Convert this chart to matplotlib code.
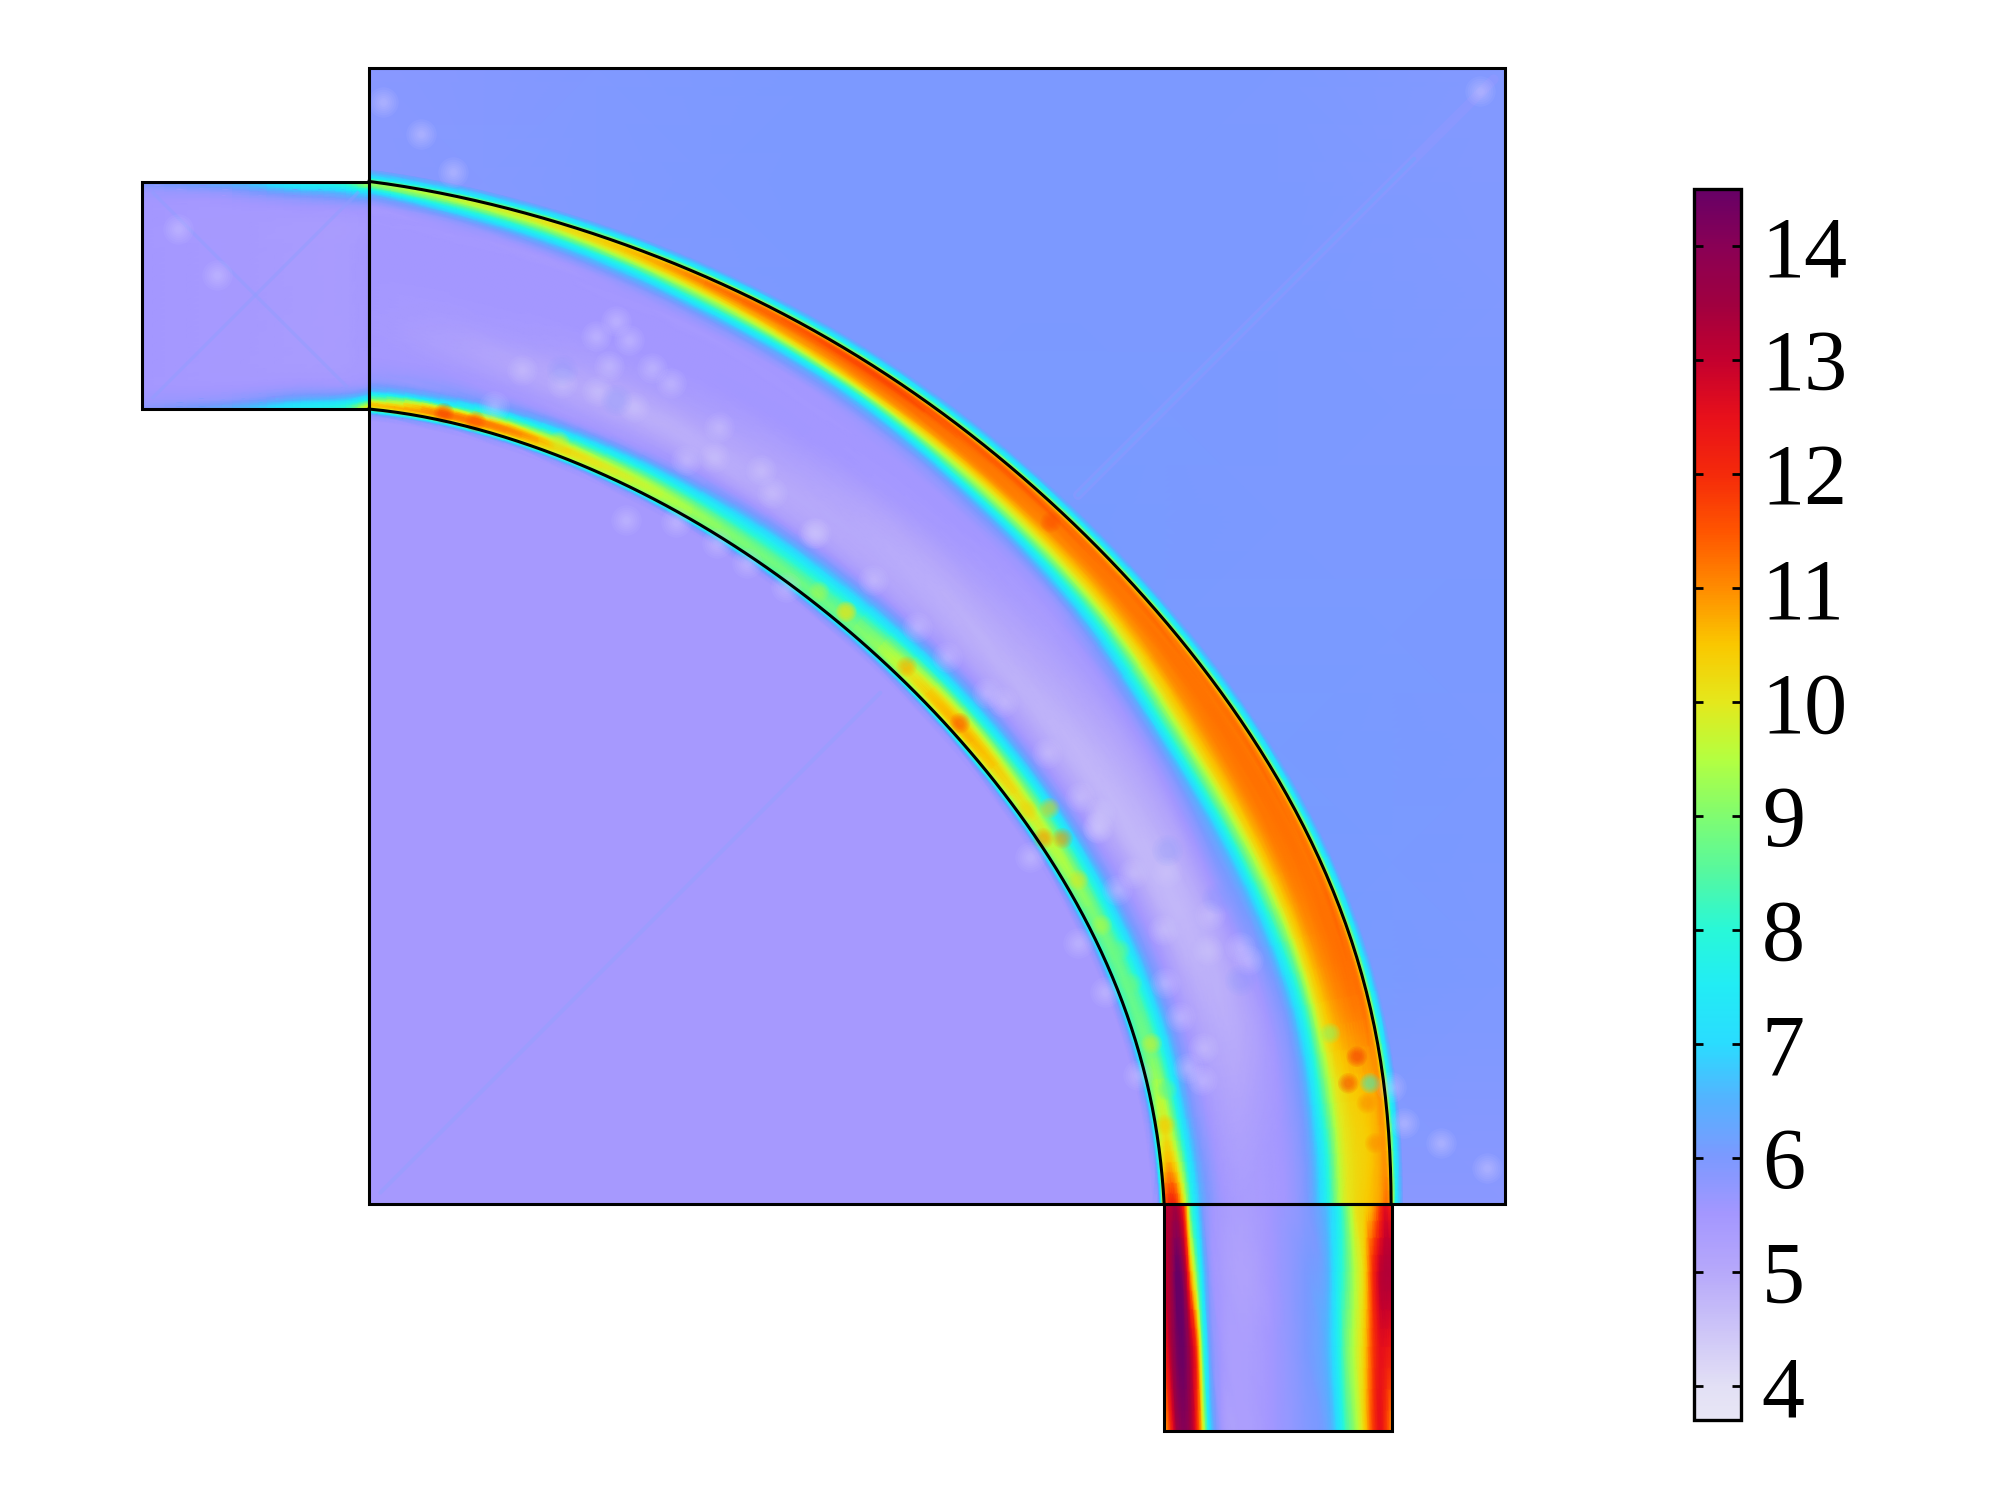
import numpy as np
import matplotlib
matplotlib.use('Agg')
import matplotlib.pyplot as plt
import matplotlib.tri as mtri
from matplotlib.colors import LinearSegmentedColormap, Normalize
from matplotlib.patches import Polygon, Rectangle
from matplotlib.cm import ScalarMappable

plt.rcParams['font.family'] = ['Liberation Serif', 'DejaVu Serif']

# colour scale
vmin, vmax = 3.7, 14.5
scale_vals = [3.7, 4, 5, 5.5, 6, 6.5, 7, 7.5, 8, 8.5, 9, 9.5, 10, 10.5, 11, 11.5, 12, 12.5, 13, 13.5, 14, 14.5]
scale_cols = ['#E8E6F5', '#E2DFF5', '#B6A8FA', '#A497FF', '#7C99FF', '#55B2FF', '#2ADCFF', '#22ECF5',
              '#28F8D8', '#55F8A0', '#80FC70', '#B4FF40', '#E4E81C', '#FAC800', '#FF8C00', '#FF5500',
              '#F52A0A', '#E8101A', '#C4002E', '#A00040', '#8A0055', '#660066']
tick_vals = [4, 5, 6, 7, 8, 9, 10, 11, 12, 13, 14]

# the curved walls
outer_x = [0, .22, .44, .734, 1.027, 1.32, 1.614, 1.907, 2.2, 2.484, 2.777, 3.071, 3.364, 3.658, 3.951, 4.171, 4.288, 4.376, 4.435, 4.472, 4.491, 4.5]
outer_y = [4.5, 4.47, 4.419, 4.346, 4.258, 4.155, 4.023, 3.861, 3.703, 3.509, 3.289, 3.011, 2.732, 2.38, 1.94, 1.529, 1.28, 1.001, .722, .458, .223, 0]
inner_x = [0, .22, .44, .734, 1.027, 1.32, 1.614, 1.907, 2.191, 2.484, 2.777, 2.953, 3.115, 3.261, 3.379, 3.438, 3.481, 3.5]
inner_y = [3.5, 3.465, 3.421, 3.333, 3.209, 3.069, 2.893, 2.68, 2.46, 2.167, 1.837, 1.573, 1.323, 1.03, .707, .458, .208, 0]

# bend: rows by angle, columns by position across the channel (0 inner wall, 1 outer wall)
bend_angle = [0, 3, 6, 12, 20, 30, 40, 50, 60, 70, 75, 80, 85, 90]
bend_s = [-.05, -.02, 0, .02, .05, .08, .12, .16, .22, .32, .45, .58, .66, .72, .78, .84, .90, .95, .985, 1.0, 1.02, 1.05]
bend_00 = [5.45, 6.4, 11, 12, 12, 10.5, 8, 6.6, 5.8, 5.4, 5.4, 5.7, 6.4, 7.8, 9.6, 10.2, 10.5, 10.8, 11.2, 10.5, 7.8, 6.1]
bend_03 = [5.45, 6.3, 9.5, 10.5, 10.5, 9.5, 7.6, 6.4, 5.7, 5.3, 5.4, 5.7, 6.4, 7.8, 9.6, 10.2, 10.4, 10.7, 10.8, 10, 7.8, 6.1]
bend_06 = [5.45, 6.2, 8.5, 9.6, 9.8, 8.8, 7.2, 6.2, 5.6, 5.2, 5.3, 5.7, 6.4, 8, 9.7, 10.3, 10.5, 10.7, 10.8, 10, 7.8, 6.1]
bend_12 = [5.45, 6.2, 8, 8.6, 8.8, 8.4, 7.2, 6.2, 5.5, 5, 5, 5.6, 6.3, 7.9, 10, 10.8, 11.1, 11.2, 11, 10, 7.8, 6.1]
bend_20 = [5.45, 6.2, 8, 8.6, 8.8, 8.3, 7.2, 6.2, 5.5, 4.8, 4.9, 5.8, 6.6, 8.5, 10.2, 11, 11.2, 11.2, 11, 10, 7.8, 6.1]
bend_30 = [5.45, 6.2, 8.6, 9.6, 9.8, 9, 7.6, 6.3, 5.4, 4.8, 4.9, 5.4, 6.3, 8.2, 10, 10.9, 11.2, 11.2, 11, 10, 7.8, 6.1]
bend_40 = [5.45, 6.2, 9, 10.4, 10.6, 9.8, 8, 6.6, 5.5, 4.9, 5, 5.3, 5.5, 6, 7.8, 10, 11, 11.2, 11, 10, 7.8, 6.1]
bend_50 = [5.45, 6.2, 8.2, 8.8, 8.8, 8.4, 7.4, 6.4, 5.4, 5, 5, 5.4, 5.5, 5.6, 6.4, 9, 10.9, 11.2, 11.2, 10, 7.8, 6.1]
bend_60 = [5.45, 6.2, 8.2, 8.8, 8.8, 8.2, 7.2, 6.2, 5.3, 5, 5.2, 5.5, 5.5, 5.5, 5.7, 7, 10.4, 11.3, 11.4, 10, 7.8, 6.1]
bend_70 = [5.45, 6.2, 8.8, 9.6, 9.6, 8.6, 7, 5.8, 5.3, 4.9, 5.3, 5.5, 5.5, 5.5, 5.5, 6.2, 8.6, 10.6, 11, 10, 7.8, 6.1]
bend_75 = [5.45, 6.2, 9, 10, 10, 8.6, 6.8, 5.7, 5.3, 5, 5.3, 5.5, 5.5, 5.5, 5.5, 5.8, 7.4, 9.8, 10.5, 9.8, 7.8, 6.1]
bend_80 = [5.45, 6.2, 9.3, 10.8, 10.8, 8.6, 6.4, 5.7, 5.4, 5.1, 5.4, 5.5, 5.5, 5.5, 5.5, 5.5, 6.6, 8.8, 10, 9.6, 7.6, 6.1]
bend_85 = [5.45, 6.3, 9.5, 11, 10.5, 7.4, 6, 5.7, 5.5, 5.3, 5.4, 5.5, 5.5, 5.5, 5.5, 5.5, 6, 8, 9.6, 9.3, 7.4, 6.1]
bend_90 = [5.45, 6.4, 9.5, 10.5, 8.5, 6.6, 5.8, 5.6, 5.5, 5.5, 5.5, 5.5, 5.5, 5.5, 5.5, 5.5, 5.6, 6.8, 9, 9, 7.2, 6.1]

# outlet: rows going down, columns left to right
outlet_y = [0, -.3, -.63, -1]
outlet_s = [0, .03, .055, .09, .115, .145, .17, .2, .25, .35, .5, .62, .72, .76, .8, .84, .88, .92, .95, .97, 1]
outlet_0 = [13, 13.2, 13.3, 11.5, 8.5, 7, 6, 5.6, 5.4, 5.3, 5.6, 5.9, 6.7, 7.5, 8.8, 10, 10.3, 10.8, 11.8, 12.5, 12]
outlet_1 = [12.8, 13.5, 14.5, 13.5, 11, 8.7, 7, 5.8, 5.4, 5.2, 5.6, 6, 6.5, 7.5, 8.5, 9.5, 10.3, 12, 13, 13.2, 13.2]
outlet_2 = [12, 13.3, 14.2, 14.3, 13.3, 11.5, 8.5, 6.3, 5.5, 5.3, 5.6, 6, 6.6, 7.5, 8.8, 9.6, 10.4, 11.8, 12.5, 12.5, 12.3]
outlet_3 = [10.5, 12, 13.5, 14, 13.5, 12, 10, 7.2, 5.6, 5.3, 5.6, 5.9, 6.3, 7, 8.3, 9.2, 10.3, 11.8, 12.5, 12, 11]

# inlet: rows along the flow, columns bottom to top
inlet_x = [-1, -.6, -.3, -.1, 0]
inlet_s = [0, .02, .04, .07, .1, .15, .3, .5, .7, .85, .9, .93, .96, .98, 1]
inlet_0 = [5.8, 5.7, 5.6, 5.55, 5.5, 5.5, 5.5, 5.5, 5.5, 5.5, 5.5, 5.55, 5.6, 5.8, 5.9]
inlet_1 = [6.5, 6.2, 5.8, 5.6, 5.5, 5.45, 5.45, 5.45, 5.45, 5.45, 5.5, 5.6, 5.9, 6.3, 6.6]
inlet_2 = [7.5, 7.2, 6.5, 5.9, 5.6, 5.45, 5.4, 5.4, 5.4, 5.45, 5.6, 5.9, 6.6, 7.3, 7.6]
inlet_3 = [8.2, 7.8, 6.9, 6.0, 5.6, 5.45, 5.4, 5.4, 5.4, 5.45, 5.7, 6.2, 7.0, 7.8, 8.3]
inlet_4 = [10.5, 9.5, 7.8, 6.4, 5.7, 5.5, 5.5, 5.5, 5.5, 5.5, 5.8, 6.5, 7.6, 9.0, 9.6]

# square behind the bend, coarse nodes from top row to bottom row
bg_x = [0, 1, 2, 3, 4, 5]
bg_y = [5, 4, 3, 2, 1, 0]
bg_5 = [5.85, 5.95, 6.02, 6.02, 5.98, 5.9]
bg_4 = [5.85, 5.95, 6.02, 6.02, 6.02, 5.95]
bg_3 = [5.8, 5.9, 6.0, 6.05, 6.02, 6.0]
bg_2 = [5.45, 5.5, 5.6, 6.02, 6.05, 6.0]
bg_1 = [5.45, 5.45, 5.45, 5.9, 6.05, 5.98]
bg_0 = [5.45, 5.45, 5.45, 5.6, 5.85, 5.82]
inner_val = 5.45

# pale flecks across the bend
fleck_x = [1.086, .998, 1.144, .675, .851, 1.005, 1.166, 1.247, 1.328, 1.056, 1.54, 1.518, 1.394, 1.724, 1.775, 1.966,
           1.35, 1.533, 1.665, 1.13, 1.834, .55, 1.956, 2.22, 2.41, 2.542, 2.792, 2.719, 2.983, 3.129, 3.202, 3.217,
           3.21, 3.291, 3.364, 3.511, 3.496, 3.702, 3.694, 3.87, 3.833, 3.504, 3.57, 3.672, 3.606, 3.665,
           4.553, 4.497, 3.122, 3.24, 3.386, 2.909, .37, 4.72, 4.92, .06, .23, 4.89, -.84, -.67]
fleck_y = [3.884, 3.818, 3.803, 3.671, 3.612, 3.576, 3.507, 3.678, 3.612, 3.686, 3.421, 3.289, 3.276, 3.231, 3.128, 2.952,
           3.003, 2.908, 2.82, 3.01, 2.717, 3.512, 2.952, 2.747, 2.541, 2.409, 2.211, 2.248, 1.984, 1.793, 1.661, 1.72,
           1.654, 1.382, 1.456, 1.463, 1.206, 1.272, 1.118, 1.074, 1.133, .971, .825, .685, .597, .546,
           .355, .516, 1.147, .935, .568, 1.529, 4.54, .27, .16, 4.85, 4.71, 4.90, 4.29, 4.09]

# bluish patches next to the flecks
patch_x = [3.51, 3.731, 3.833, 1.086, .851]
patch_y = [1.558, 1.345, .986, 3.539, 3.671]

# small spots in the wall bands
spot_x = [.33, .469, .836, 2.098, 1.981, 2.601, 2.103, 2.366, 2.995, 3.052, 3.0, 2.895, 2.968, 3.122, 3.225, 3.305, 3.357,
          3.445, 3.511, 3.503, 4.23, 4.347, 4.31, 4.406, 4.392, 4.428]
spot_y = [3.48, 3.443, 3.355, 2.607, 2.695, 2.116, 2.607, 2.365, 1.742, 1.609, 3.0, 1.734, 1.609, 1.426, 1.228, 1.118, .971,
          .707, .502, .348, .751, .648, .531, .531, .443, .267]
spot_val = [11.8, 11.5, 9.8, 10, 9.4, 11.6, 10, 10.8, 10.5, 11, 11.6, 10.3, 11, 10, 9.5, 8.8, 8.8,
            9.8, 8.6, 10.5, 9, 12, 11.8, 8, 11, 11]

cmap = LinearSegmentedColormap.from_list(
    'field', [((v - vmin) / (vmax - vmin), c) for v, c in zip(scale_vals, scale_cols)], N=512)
norm = Normalize(vmin, vmax)


def wall_fit(xs, ys):
    # smooth radius against angle through the read wall points
    angle = np.degrees(np.arctan2(ys, xs))
    return np.polyfit(angle / 90, np.hypot(xs, ys), 7)


outer_fit = wall_fit(np.array(outer_x), np.array(outer_y))
inner_fit = wall_fit(np.array(inner_x), np.array(inner_y))


def wall_r(fit, a):
    return np.polyval(fit, np.asarray(a) / 90)


def bend_xy(a, s):
    r_in = wall_r(inner_fit, a)
    r = r_in + s * (wall_r(outer_fit, a) - r_in)
    return r * np.cos(np.radians(a)), r * np.sin(np.radians(a))


def draw_field(ax, u, v, table, to_xy):
    # refine the read table with matplotlib's own tri tools, then shade it
    u_norm = (np.array(u) - min(u)) / (max(u) - min(u))
    uu, vv = np.meshgrid(u_norm, v, indexing='ij')
    n_u, n_v = uu.shape
    tris = []
    for i in range(n_u - 1):
        for j in range(n_v - 1):
            a = i * n_v + j
            tris.append([a, a + n_v, a + n_v + 1])
            tris.append([a, a + n_v + 1, a + 1])
    tri = mtri.Triangulation(uu.ravel(), vv.ravel(), tris)
    z = np.array(table, dtype=float).ravel()
    refiner = mtri.UniformTriRefiner(tri)
    interp = mtri.CubicTriInterpolator(tri, z, kind='geom')
    fine, z_fine = refiner.refine_field(z, triinterpolator=interp, subdiv=3)
    x, y = to_xy(fine.x * (max(u) - min(u)) + min(u), fine.y)
    ax.tripcolor(x, y, fine.triangles, np.clip(z_fine, vmin, vmax), shading='gouraud', cmap=cmap, norm=norm)


fig = plt.figure(figsize=(20, 15), dpi=100)
ax = fig.add_axes([0, 0, 1, 1])
ax.set_xlim(-1.624, 7.178)
ax.set_ylim(-1.303, 5.299)
ax.axis('off')

ax.pcolormesh(bg_x, bg_y, [bg_5, bg_4, bg_3, bg_2, bg_1, bg_0], shading='gouraud', cmap=cmap, norm=norm)

wall_angle = np.linspace(0, 90, 181)
in_x, in_y = bend_xy(wall_angle, 0.0)
out_x, out_y = bend_xy(wall_angle, 1.0)
core_x, core_y = bend_xy(wall_angle, -.03)
ax.add_patch(Polygon(np.column_stack([np.r_[0, core_x], np.r_[0, core_y]]),
                     facecolor=cmap(norm(inner_val)), edgecolor='none'))

# faint diagonal streaks
ax.plot([.05, 2.25], [.05, 2.25], color='#93A0FF', lw=3, alpha=.5, solid_capstyle='round')
ax.plot([3.12, 4.95], [3.12, 4.95], color='#9A98FF', lw=7, alpha=.35, solid_capstyle='round')
ax.plot([3.12, 4.6], [3.12, 4.6], color='#70A5FF', lw=3, alpha=.5, solid_capstyle='round')
ax.plot([-.95, -.05], [3.55, 4.45], color='#8F9EFF', lw=2.5, alpha=.45)
ax.plot([-.95, -.1], [4.45, 3.6], color='#8F9EFF', lw=2.5, alpha=.45)

bend_rows = [bend_00, bend_03, bend_06, bend_12, bend_20, bend_30, bend_40, bend_50,
             bend_60, bend_70, bend_75, bend_80, bend_85, bend_90]
draw_field(ax, bend_angle, bend_s, bend_rows, bend_xy)
draw_field(ax, outlet_y, outlet_s, [outlet_0, outlet_1, outlet_2, outlet_3],
           lambda t, s: (3.5 + s, t))
draw_field(ax, inlet_x, inlet_s, [inlet_0, inlet_1, inlet_2, inlet_3, inlet_4],
           lambda t, s: (t, 3.5 + s))

# soft blobs: stacks of low alpha dots
for size in [480, 340, 230, 150, 90, 45, 20]:
    ax.scatter(fleck_x, fleck_y, s=size, color='#D8D0FF', alpha=.08, linewidths=0, zorder=3)
for size in [500, 350, 220, 120]:
    ax.scatter(patch_x, patch_y, s=size, color='#7C99FF', alpha=.06, linewidths=0, zorder=3)
for size in [220, 160, 110, 70, 35]:
    ax.scatter(spot_x, spot_y, s=size, c=spot_val, cmap=cmap, norm=norm, alpha=.14, linewidths=0, zorder=3)

# outlines
line = dict(fill=False, edgecolor='black', lw=2.2, zorder=5)
ax.add_patch(Rectangle((0, 0), 5, 5, **line))
ax.add_patch(Rectangle((-1, 3.5), 1, 1, **line))
ax.add_patch(Rectangle((3.5, -1), 1, 1, **line))
ax.plot(in_x, in_y, color='black', lw=2.2, zorder=5)
ax.plot(out_x, out_y, color='black', lw=2.2, zorder=5)

cax = fig.add_axes([1694 / 2000, 80 / 1500, 47 / 2000, 1231 / 1500])
cb = fig.colorbar(ScalarMappable(norm=norm, cmap=cmap), cax=cax)
cb.set_ticks(tick_vals)
cb.outline.set_linewidth(2.4)
cax.tick_params(axis='y', which='major', direction='in', length=6.5, width=2, left=True, right=True,
                labelsize=62, pad=15)

fig.savefig('out.png', dpi=100)
